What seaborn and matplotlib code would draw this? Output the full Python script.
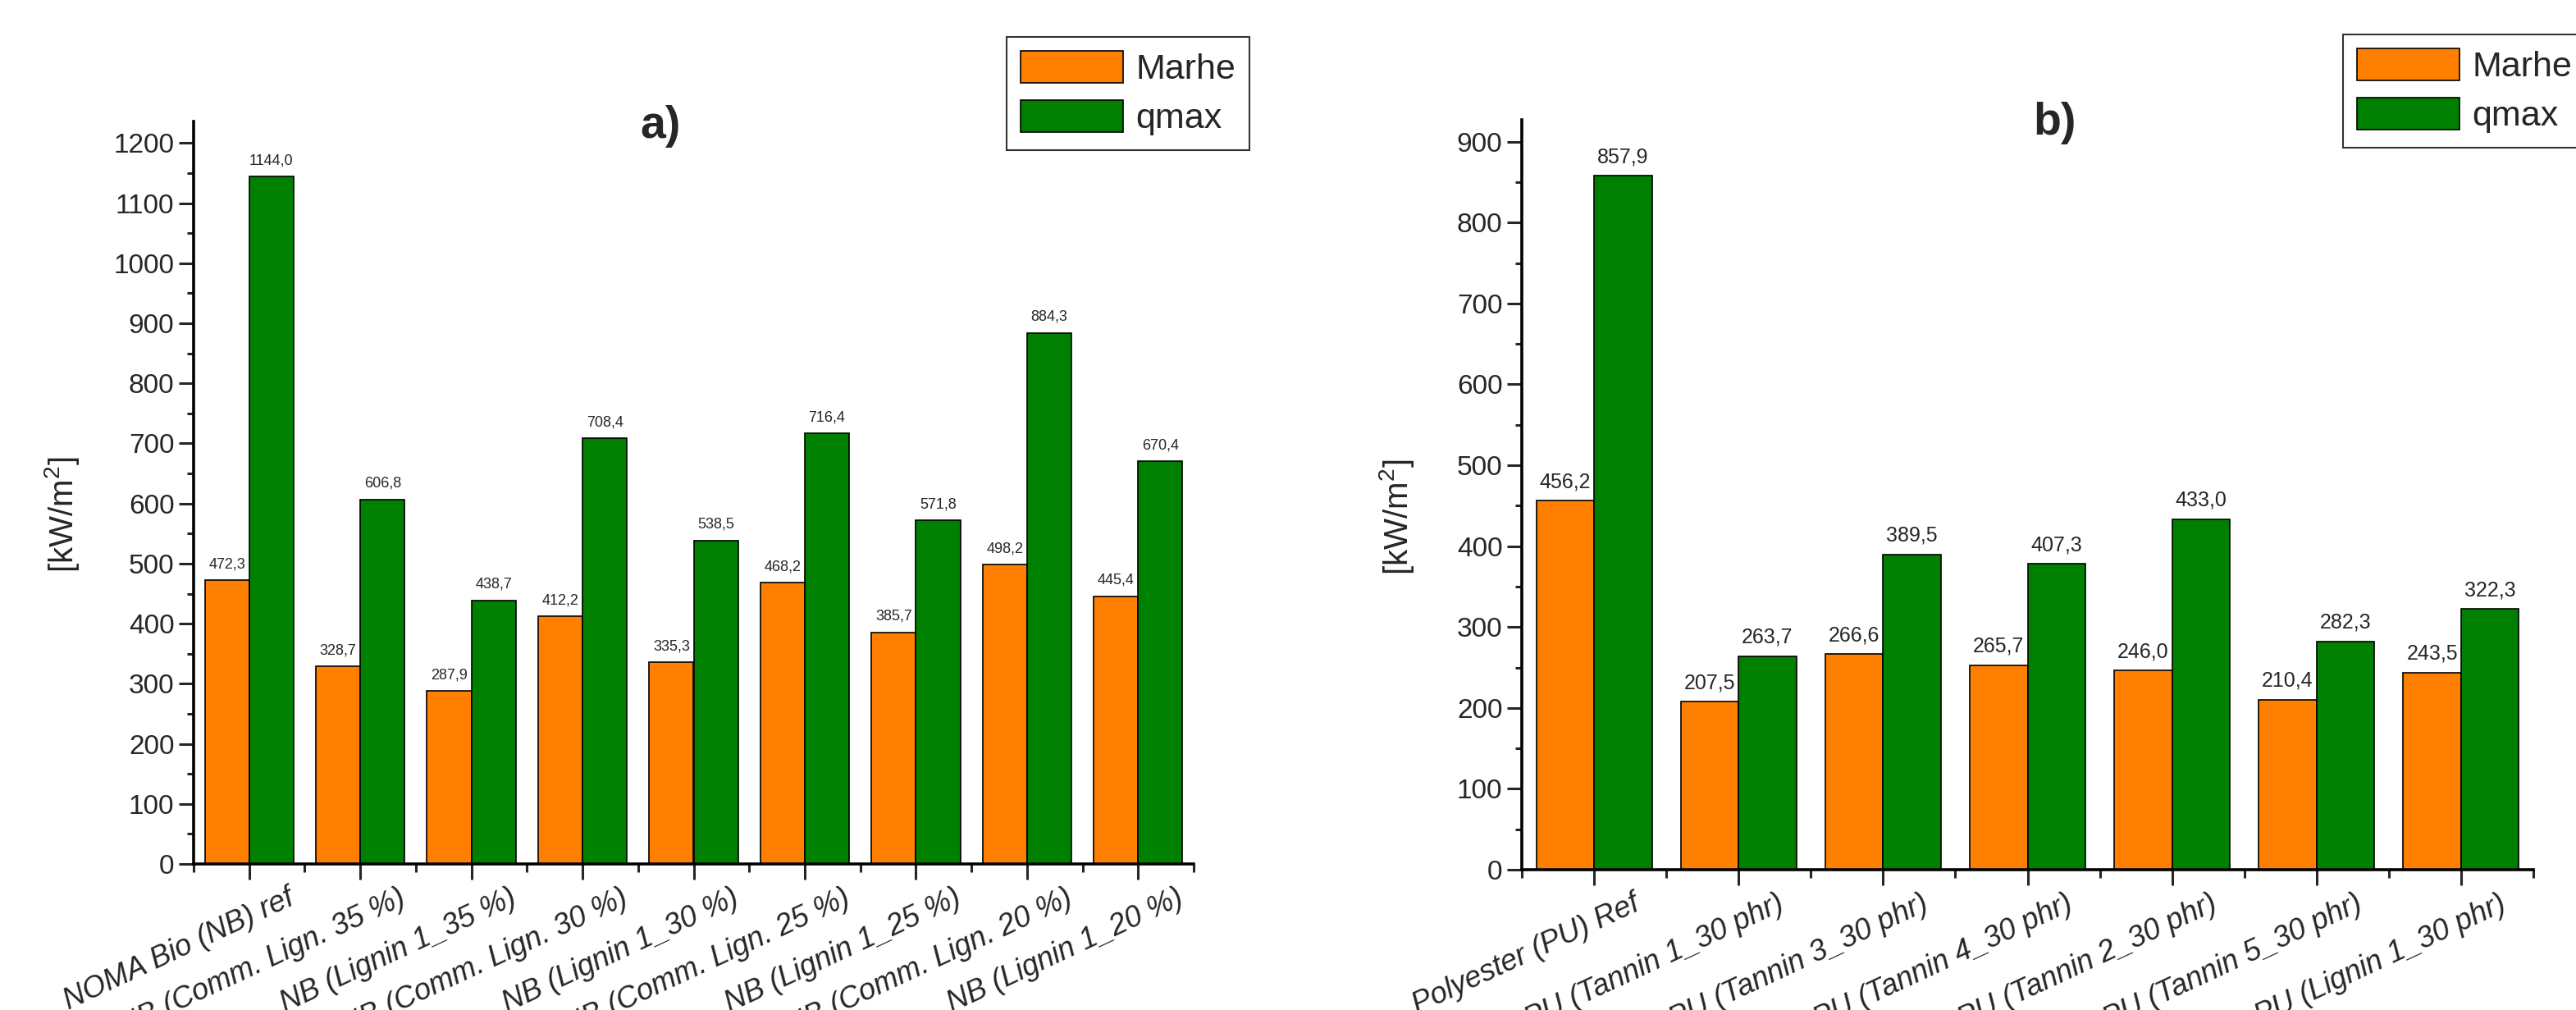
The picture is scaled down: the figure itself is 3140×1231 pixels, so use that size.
import pandas as pd
import seaborn as sns
import matplotlib.pyplot as plt
from matplotlib.patches import Patch
from matplotlib.ticker import MultipleLocator, FixedLocator
from matplotlib.transforms import ScaledTranslation

# ---- panel a) data
samples_a = ["NOMA Bio (NB) ref", "NB (Comm. Lign. 35 %)", "NB (Lignin 1_35 %)",
             "NB (Comm. Lign. 30 %)", "NB (Lignin 1_30 %)", "NB (Comm. Lign. 25 %)",
             "NB (Lignin 1_25 %)", "NB (Comm. Lign. 20 %)", "NB (Lignin 1_20 %)"]
marhe_a = [472.3, 328.7, 287.9, 412.2, 335.3, 468.2, 385.7, 498.2, 445.4]
qmax_a = [1144.0, 606.8, 438.7, 708.4, 538.5, 716.4, 571.8, 884.3, 670.4]

# ---- panel b) data
samples_b = ["Polyester (PU) Ref", "PU (Tannin 1_30 phr)", "PU (Tannin 3_30 phr)",
             "PU (Tannin 4_30 phr)", "PU (Tannin 2_30 phr)", "PU (Tannin 5_30 phr)",
             "PU (Lignin 1_30 phr)"]
# bar heights as drawn (the Tannin 4 bars sit lower than their printed values)
marhe_b = [456.2, 207.5, 266.6, 253.0, 246.0, 210.4, 243.5]
qmax_b = [857.9, 263.7, 389.5, 378.0, 433.0, 282.3, 322.3]
marhe_b_txt = ["456,2", "207,5", "266,6", "265,7", "246,0", "210,4", "243,5"]
qmax_b_txt = ["857,9", "263,7", "389,5", "407,3", "433,0", "282,3", "322,3"]

series = ["Marhe", "qmax"]
colors = ["#FF8000", "#008000"]

sns.set_theme(style="ticks")
plt.rcParams["font.family"] = ["Liberation Sans", "DejaVu Sans"]
plt.rcParams["mathtext.default"] = "regular"

fig = plt.figure(figsize=(31.4, 12.31), dpi=100)
W, H = 3140, 1231


def box(l, r, b, t):
    return [l / W, 1 - b / H, (r - l) / W, (b - t) / H]


def comma(v):
    return f"{v:.1f}".replace(".", ",")


def panel(ax, samples, marhe, qmax, ytop, lab_m, lab_q, lab_size, ylab_x):
    n = len(samples)
    df = pd.DataFrame({"sample": samples * 2,
                       "series": ["Marhe"] * n + ["qmax"] * n,
                       "value": marhe + qmax})
    sns.barplot(data=df, x="sample", y="value", hue="series", palette=colors,
                saturation=1, edgecolor="black", linewidth=1.2, width=0.8,
                legend=False, ax=ax)
    ax.bar_label(ax.containers[0], labels=lab_m, padding=8, fontsize=lab_size)
    ax.bar_label(ax.containers[1], labels=lab_q, padding=8, fontsize=lab_size)

    ax.set_xlim(-0.5, n - 0.5)
    ax.set_ylim(0, ytop)
    ax.yaxis.set_major_locator(MultipleLocator(100))
    ax.yaxis.set_minor_locator(MultipleLocator(50))
    ax.xaxis.set_minor_locator(FixedLocator([i - 0.5 for i in range(n + 1)]))
    ax.set_xticks(range(n))
    ax.set_xticklabels([""] * n)
    # slanted category labels, right end sitting a bit right of the tick
    trans = ax.get_xaxis_transform() + ScaledTranslation(0.46, -0.24, fig.dpi_scale_trans)
    for i, s in enumerate(samples):
        ax.text(i, 0, s, transform=trans, rotation=25, rotation_mode="anchor",
                ha="right", va="top", fontsize=26, style="italic")
    ax.tick_params(axis="y", which="major", length=13, width=2.2, labelsize=24,
                   direction="out", pad=4)
    ax.tick_params(axis="y", which="minor", length=6, width=2.2, direction="out")
    ax.tick_params(axis="x", which="major", length=14, width=2.2, direction="out")
    ax.tick_params(axis="x", which="minor", length=7, width=2.2, direction="out")
    for s in ["top", "right"]:
        ax.spines[s].set_visible(False)
    for s in ["left", "bottom"]:
        ax.spines[s].set_linewidth(2.6)
        ax.spines[s].set_color("black")
    ax.set_xlabel("")
    ax.set_ylabel("[kW/m$^{2}$]", fontsize=29)
    ax.yaxis.set_label_coords(ylab_x, 0.47)
    ax.set_facecolor("white")


ax_a = fig.add_axes(box(236, 1455, 1053, 148))
panel(ax_a, samples_a, marhe_a, qmax_a, 1236,
      [comma(v) for v in marhe_a], [comma(v) for v in qmax_a], 13, -0.112)

ax_b = fig.add_axes(box(1855, 3088, 1060, 146))
panel(ax_b, samples_b, marhe_b, qmax_b, 927, marhe_b_txt, qmax_b_txt, 18, -0.105)

# titles
fig.text(805 / W, 1 - 154 / H, "a)", fontsize=40, fontweight="bold", ha="center", va="center")
fig.text(2505 / W, 1 - 150 / H, "b)", fontsize=40, fontweight="bold", ha="center", va="center")

# legends
handles = [Patch(facecolor=c, edgecolor="black", linewidth=1.2) for c in colors]
for ax, x0, y0 in [(ax_a, 1227, 45), (ax_b, 2856, 42)]:
    leg = ax.legend(handles, series, loc="upper left",
                    bbox_to_anchor=(x0 / W, 1 - y0 / H), bbox_transform=fig.transFigure,
                    fontsize=31, frameon=True, fancybox=False, framealpha=1,
                    edgecolor="#333333", borderpad=0.4, handlelength=2.9,
                    handleheight=1.0, handletextpad=0.35, labelspacing=0.4,
                    borderaxespad=0)
    leg.get_frame().set_linewidth(1.5)

fig.savefig("out.png", dpi=100, facecolor="white")
